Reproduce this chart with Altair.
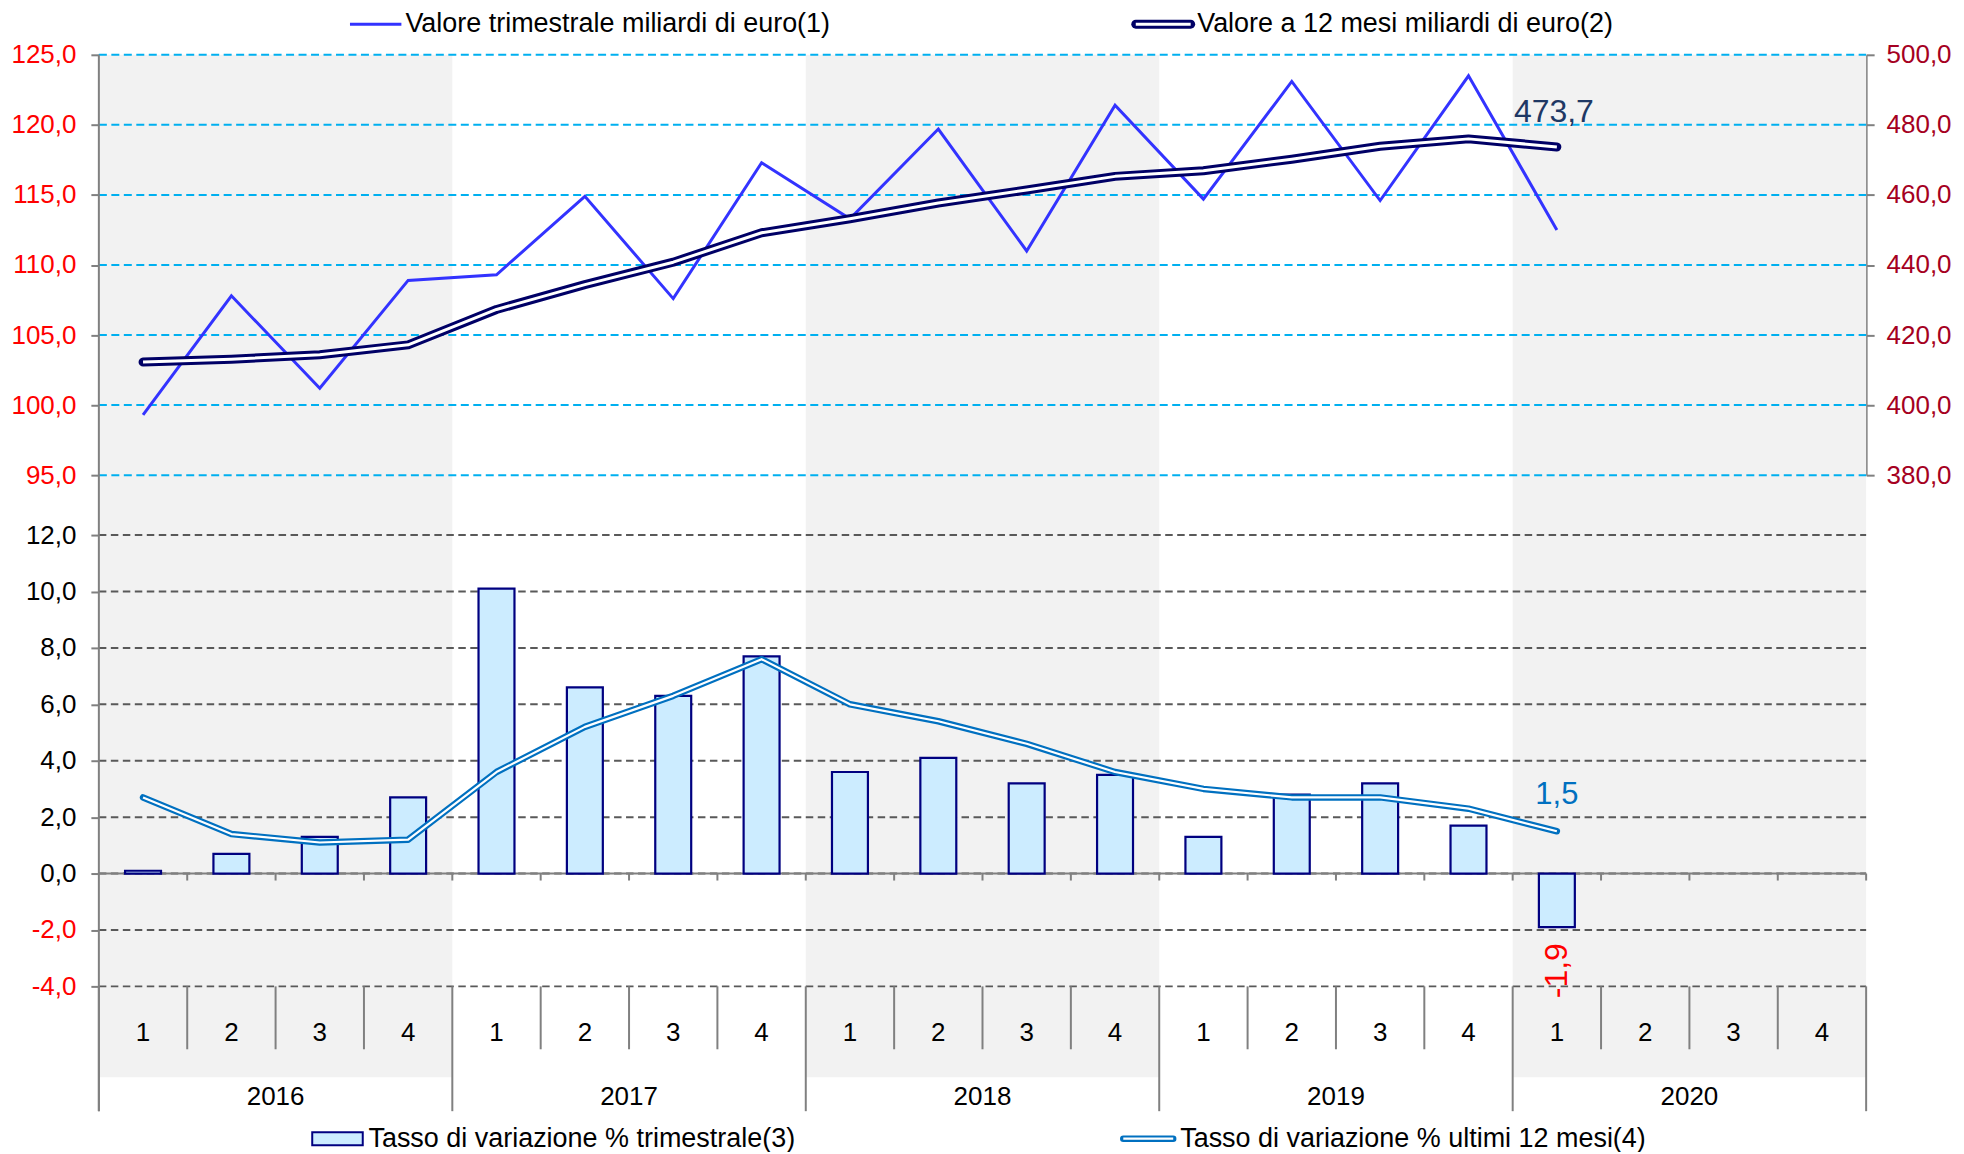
import altair as alt
import pandas as pd

FONT = "Liberation Sans"

# ---------------- data ----------------
years = ["2016", "2017", "2018", "2019", "2020"]
quarters = ["1", "2", "3", "4"]
shaded_years = ["2016", "2018", "2020"]

# Valore trimestrale miliardi di euro (left axis, top panel)
val_trim = [99.3, 107.8, 101.2, 108.9, 109.3, 114.9, 107.6, 117.3, 113.3,
            119.7, 111.0, 121.4, 114.7, 123.1, 114.6, 123.5, 112.5]
# Valore a 12 mesi miliardi di euro (right axis, top panel)
val_12m = [412.3, 413.1, 414.4, 417.2, 427.3, 434.4, 440.8, 449.2, 453.2,
           457.7, 461.4, 465.3, 466.9, 470.2, 473.9, 476.0, 473.7]
# Tasso di variazione % trimestrale (bars, bottom panel)
tasso_trim = [0.1, 0.7, 1.3, 2.7, 10.1, 6.6, 6.3, 7.7, 3.6,
              4.1, 3.2, 3.5, 1.3, 2.8, 3.2, 1.7, -1.9]
# Tasso di variazione % ultimi 12 mesi (line, bottom panel)
tasso_12m = [2.7, 1.4, 1.1, 1.2, 3.6, 5.2, 6.3, 7.6, 6.0,
             5.4, 4.6, 3.6, 3.0, 2.7, 2.7, 2.3, 1.5]

top_left_ticks = [95, 100, 105, 110, 115, 120, 125]
top_right_ticks = [380, 400, 420, 440, 460, 480, 500]
bottom_ticks = [-4, -2, 0, 2, 4, 6, 8, 10, 12]

legend_labels = [
    "Valore trimestrale miliardi di euro(1)",
    "Valore a 12 mesi miliardi di euro(2)",
    "Tasso di variazione % trimestrale(3)",
    "Tasso di variazione % ultimi 12 mesi(4)",
]

# ---------------- layout (pixels, relative to plot origin) ----------------
W = 1770
H = 1058
TOP_RANGE = [421, 0]
BOT_RANGE = [933, 481]
BAND_BOTTOM = 1024
QDIV_BOTTOM = 996
QLABEL_Y = 979.5
YLABEL_Y = 1044
ZERO_PX = BOT_RANGE[1] + (max(bottom_ticks) - 0) / (max(bottom_ticks) - min(bottom_ticks)) * (BOT_RANGE[0] - BOT_RANGE[1])

nq = len(quarters)
ncat = len(years) * nq

xs = alt.Scale(domain=[-0.5, ncat - 0.5], nice=False, zero=False, padding=0)


def X(field):
    return alt.X(field, type="quantitative", scale=xs, axis=None)


def top_l():
    return alt.Scale(domain=[min(top_left_ticks), max(top_left_ticks)], range=TOP_RANGE, nice=False, zero=False)


def top_r():
    return alt.Scale(domain=[min(top_right_ticks), max(top_right_ticks)], range=TOP_RANGE, nice=False, zero=False)


def bot():
    return alt.Scale(domain=[min(bottom_ticks), max(bottom_ticks)], range=BOT_RANGE, nice=False, zero=False)


LABEL_EXPR = "(datum.value < 0 ? '-' : '') + replace(format(abs(datum.value), '.1f'), '.', ',')"

common_axis = dict(labelFontSize=26, labelFont=FONT, tickSize=8, tickWidth=2,
                   tickColor="#808080", domainColor="#808080", domainWidth=2,
                   grid=False, title=None, labelExpr=LABEL_EXPR)

ax_top_left = alt.Axis(orient="left", values=top_left_ticks, labelColor="#FF0000", labelPadding=15, **common_axis)
ax_top_right = alt.Axis(orient="right", values=top_right_ticks, labelColor="#A50021", labelPadding=12, **common_axis)
ax_bottom = alt.Axis(orient="left", values=bottom_ticks, labelPadding=15,
                     labelColor={"condition": {"test": "datum.value < 0", "value": "#FF0000"}, "value": "#000000"},
                     **common_axis)

# ---------------- data frames ----------------
main_df = pd.DataFrame({
    "idx": list(range(len(val_trim))),
    "trim": val_trim,
    "m12": val_12m,
    "tt": tasso_trim,
    "t12": tasso_12m,
})

cat_df = pd.DataFrame({
    "idx": list(range(ncat)),
    "q": [q for _ in years for q in quarters],
})

year_df = pd.DataFrame({"year": years, "yi": list(range(len(years)))})

bound_df = pd.DataFrame({"b": list(range(ncat + 1))})

last = len(val_trim) - 1


def fmt(v):
    return f"{v:.1f}".replace(".", ",")


lab_df = pd.DataFrame({
    "idx": [last],
    "m12": [val_12m[-1]], "m12l": [fmt(val_12m[-1])],
    "tt": [tasso_trim[-1]], "ttl": [fmt(tasso_trim[-1])],
    "t12": [tasso_12m[-1]], "t12l": [fmt(tasso_12m[-1])],
})

# ---------------- layers ----------------
bands = alt.Chart(year_df).transform_filter(
    alt.FieldOneOfPredicate(field="year", oneOf=shaded_years)
).transform_calculate(
    x0=f"datum.yi*{nq}-0.5", x1=f"datum.yi*{nq}+{nq}-0.5"
).mark_rect(color="#F2F2F2").encode(
    x=X("x0"), x2="x1:Q", y=alt.value(0), y2=alt.value(BAND_BOTTOM)
)

top_grid = alt.Chart(pd.DataFrame({"v": top_left_ticks})).mark_rule(
    color="#00B0F0", strokeWidth=2, strokeDash=[8, 4.5]
).encode(
    y=alt.Y("v:Q", scale=top_l(), axis=ax_top_left), x=alt.value(0), x2=alt.value(W)
)

bottom_grid = alt.Chart(pd.DataFrame({"v": bottom_ticks})).mark_rule(
    color="#595959", strokeWidth=2, strokeDash=[7.5, 4.5]
).encode(
    y=alt.Y("v:Q", scale=bot(), axis=ax_bottom), x=alt.value(0), x2=alt.value(W)
)

left_line = alt.Chart(pd.DataFrame({"v": [0]})).mark_rule(color="#808080", strokeWidth=2).encode(
    x=alt.value(0), y=alt.value(0), y2=alt.value(H)
)

zero_line = alt.Chart(pd.DataFrame({"v": [0]})).mark_rule(color="#808080", strokeWidth=2).encode(
    y=alt.Y("v:Q", scale=bot(), axis=None), x=alt.value(0), x2=alt.value(W)
)

zero_ticks = alt.Chart(bound_df).transform_filter("datum.b > 0").transform_calculate(
    pos="datum.b - 0.5"
).mark_rule(color="#808080", strokeWidth=2).encode(
    x=X("pos"), y=alt.value(ZERO_PX), y2=alt.value(ZERO_PX + 7)
)

q_div = alt.Chart(bound_df).transform_filter(f"datum.b % {nq} != 0").transform_calculate(
    pos="datum.b - 0.5"
).mark_rule(color="#808080", strokeWidth=2).encode(
    x=X("pos"), y=alt.value(BOT_RANGE[0]), y2=alt.value(QDIV_BOTTOM)
)

y_div = alt.Chart(bound_df).transform_filter(f"datum.b % {nq} == 0").transform_calculate(
    pos="datum.b - 0.5"
).mark_rule(color="#808080", strokeWidth=2).encode(
    x=X("pos"), y=alt.value(BOT_RANGE[0]), y2=alt.value(H)
)

bars = alt.Chart(main_df).mark_bar(size=36, fill="#CCECFF", stroke="#000080", strokeWidth=2.2).encode(
    x=X("idx"), y=alt.Y("tt:Q", scale=bot(), axis=None), y2=alt.datum(0)
)

t12_outer = alt.Chart(main_df).mark_line(color="#0070C0", strokeWidth=6.5, strokeCap="round", strokeJoin="round").encode(
    x=X("idx"), y=alt.Y("t12:Q", scale=bot(), axis=None)
)
t12_inner = alt.Chart(main_df).mark_line(color="#FFFFFF", strokeWidth=2.2, strokeCap="butt", strokeJoin="round").encode(
    x=X("idx"), y=alt.Y("t12:Q", scale=bot(), axis=None)
)

trim_line = alt.Chart(main_df).mark_line(color="#3333FF", strokeWidth=3).encode(
    x=X("idx"), y=alt.Y("trim:Q", scale=top_l(), axis=None)
)

m12_outer = alt.Chart(main_df).mark_line(color="#000066", strokeWidth=9, strokeCap="round", strokeJoin="round").encode(
    x=X("idx"), y=alt.Y("m12:Q", scale=top_r(), axis=ax_top_right)
)
m12_inner = alt.Chart(main_df).mark_line(color="#FFFFFF", strokeWidth=3, strokeCap="butt", strokeJoin="round").encode(
    x=X("idx"), y=alt.Y("m12:Q", scale=top_r(), axis=None)
)

lab_m12 = alt.Chart(lab_df).mark_text(font=FONT, fontSize=32, color="#1F3864", dy=-35, dx=-3, baseline="middle").encode(
    x=X("idx"), y=alt.Y("m12:Q", scale=top_r(), axis=None), text="m12l:N"
)
lab_t12 = alt.Chart(lab_df).mark_text(font=FONT, fontSize=31, color="#0070C0", dy=-36, baseline="middle").encode(
    x=X("idx"), y=alt.Y("t12:Q", scale=bot(), axis=None), text="t12l:N"
)
lab_tt = alt.Chart(lab_df).mark_text(font=FONT, fontSize=32, color="#FF0000", angle=270, align="right",
                                     baseline="middle", dx=-16).encode(
    x=X("idx"), y=alt.Y("tt:Q", scale=bot(), axis=None), text="ttl:N"
)

q_labels = alt.Chart(cat_df).mark_text(font=FONT, fontSize=26, color="#000000", baseline="middle").encode(
    x=X("idx"), y=alt.value(QLABEL_Y), text="q:N"
)
y_labels = alt.Chart(year_df).transform_calculate(mid=f"datum.yi*{nq}+{(nq - 1) / 2}").mark_text(
    font=FONT, fontSize=26, color="#000000", baseline="middle"
).encode(x=X("mid"), y=alt.value(YLABEL_Y), text="year:N")

# ---------------- legends ----------------
LEG_TOP_Y = -30.7
LEG_BOT_Y = 1085.5
one = pd.DataFrame({"v": [0]})


def leg_text(label, x, y):
    return alt.Chart(pd.DataFrame({"t": [label]})).mark_text(
        font=FONT, fontSize=27, color="#000000", align="left", baseline="middle"
    ).encode(x=alt.value(x), y=alt.value(y), text="t:N")


leg1_sym = alt.Chart(one).mark_rule(color="#3333FF", strokeWidth=3).encode(
    x=alt.value(251.5), x2=alt.value(303), y=alt.value(LEG_TOP_Y)
)
leg2_out = alt.Chart(one).mark_rule(color="#000066", strokeWidth=9, strokeCap="round").encode(
    x=alt.value(1038.5), x2=alt.value(1093.5), y=alt.value(LEG_TOP_Y)
)
leg2_in = alt.Chart(one).mark_rule(color="#FFFFFF", strokeWidth=3, strokeCap="butt").encode(
    x=alt.value(1038.5), x2=alt.value(1093.5), y=alt.value(LEG_TOP_Y)
)
leg3_sym = alt.Chart(one).mark_rect(fill="#CCECFF", stroke="#000080", strokeWidth=2).encode(
    x=alt.value(213.7), x2=alt.value(264.3), y=alt.value(LEG_BOT_Y - 6.5), y2=alt.value(LEG_BOT_Y + 6.5)
)
leg4_out = alt.Chart(one).mark_rule(color="#0070C0", strokeWidth=6.5, strokeCap="round").encode(
    x=alt.value(1026), x2=alt.value(1076), y=alt.value(LEG_BOT_Y)
)
leg4_in = alt.Chart(one).mark_rule(color="#FFFFFF", strokeWidth=2.2, strokeCap="butt").encode(
    x=alt.value(1026), x2=alt.value(1076), y=alt.value(LEG_BOT_Y)
)

layers = [
    bands, top_grid, bottom_grid, left_line, zero_line, zero_ticks, q_div, y_div,
    bars, t12_outer, t12_inner, trim_line, m12_outer, m12_inner,
    lab_m12, lab_t12, lab_tt, q_labels, y_labels,
    leg1_sym, leg_text(legend_labels[0], 307, LEG_TOP_Y),
    leg2_out, leg2_in, leg_text(legend_labels[1], 1100, LEG_TOP_Y),
    leg3_sym, leg_text(legend_labels[2], 270, LEG_BOT_Y),
    leg4_out, leg4_in, leg_text(legend_labels[3], 1083, LEG_BOT_Y),
]

chart = alt.layer(*layers).resolve_scale(y="independent").properties(
    width=W, height=H,
    autosize=alt.AutoSizeParams(type="none"),
    padding={"left": 91, "top": 46, "right": 90, "bottom": 40},
).configure_view(strokeWidth=0)

chart.save("out.html", embed_options={"renderer": "svg", "actions": False})
